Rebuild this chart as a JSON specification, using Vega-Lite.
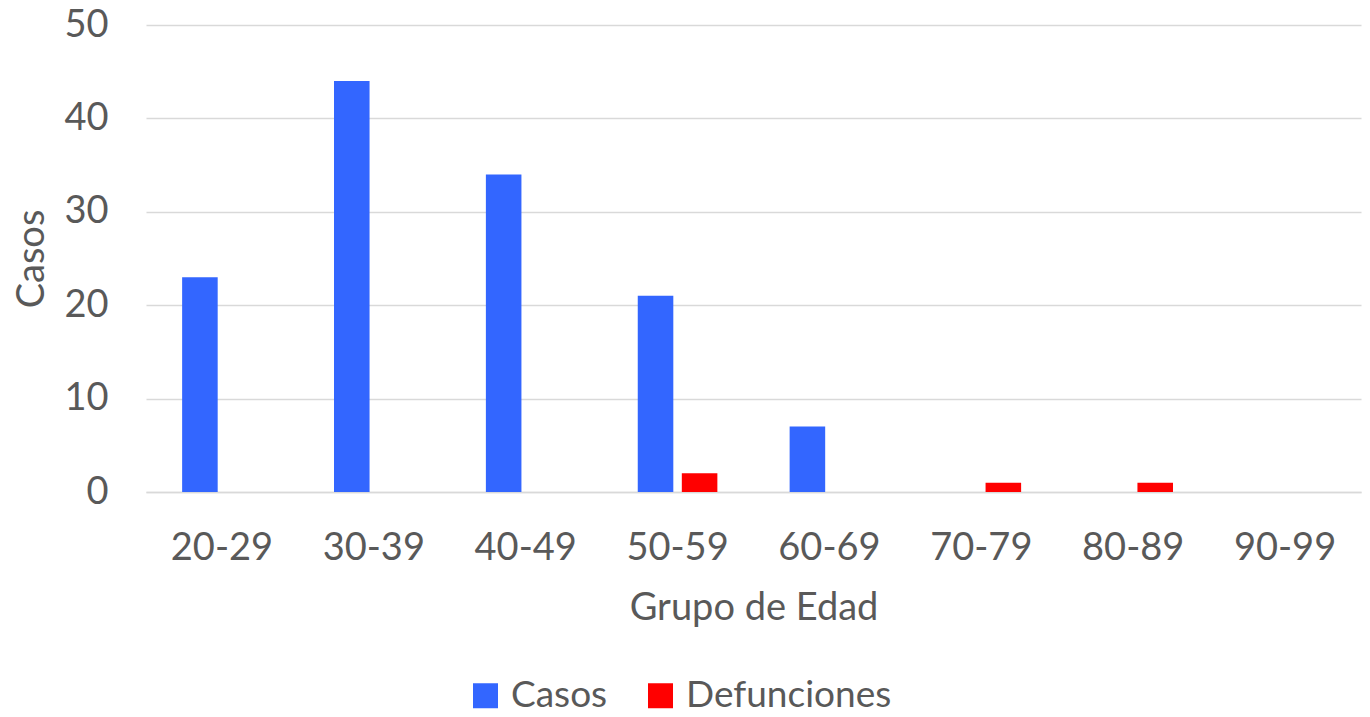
{
  "$schema": "https://vega.github.io/schema/vega-lite/v6.json",
  "autosize": {"type": "none"},
  "width": 1215,
  "height": 467,
  "padding": {"left": 146, "top": 25, "right": 9, "bottom": 225},
  "background": "white",
  "config": {
    "font": "Lato",
    "view": {"stroke": null},
    "axis": {"labelFont": "Lato", "titleFont": "Lato", "labelColor": "#595959", "titleColor": "#595959", "labelFontSize": 38, "titleFontSize": 38, "titleFontWeight": "normal"},
    "legend": {"labelFont": "Lato", "labelColor": "#595959", "labelFontSize": 37}
  },
  "data": {
    "values": [
      {"grupo": "20-29", "serie": "Casos", "valor": 23},
      {"grupo": "20-29", "serie": "Defunciones", "valor": 0},
      {"grupo": "30-39", "serie": "Casos", "valor": 44},
      {"grupo": "30-39", "serie": "Defunciones", "valor": 0},
      {"grupo": "40-49", "serie": "Casos", "valor": 34},
      {"grupo": "40-49", "serie": "Defunciones", "valor": 0},
      {"grupo": "50-59", "serie": "Casos", "valor": 21},
      {"grupo": "50-59", "serie": "Defunciones", "valor": 2},
      {"grupo": "60-69", "serie": "Casos", "valor": 7},
      {"grupo": "60-69", "serie": "Defunciones", "valor": 0},
      {"grupo": "70-79", "serie": "Casos", "valor": 0},
      {"grupo": "70-79", "serie": "Defunciones", "valor": 1},
      {"grupo": "80-89", "serie": "Casos", "valor": 0},
      {"grupo": "80-89", "serie": "Defunciones", "valor": 1},
      {"grupo": "90-99", "serie": "Casos", "valor": 0},
      {"grupo": "90-99", "serie": "Defunciones", "valor": 0}
    ]
  },
  "mark": {"type": "bar"},
  "encoding": {
    "x": {
      "field": "grupo", "type": "nominal", "sort": null,
      "scale": {"paddingInner": 0, "paddingOuter": 0},
      "axis": {"title": "Grupo de Edad", "labelAngle": 0, "ticks": false, "domainColor": "#D9D9D9", "domainWidth": 1.5, "labelPadding": 37, "titlePadding": 22}
    },
    "xOffset": {
      "field": "serie", "type": "nominal",
      "scale": {"paddingInner": 0.193, "paddingOuter": 0.82}
    },
    "y": {
      "field": "valor", "type": "quantitative",
      "scale": {"domain": [0, 50], "nice": false},
      "axis": {"title": "Casos", "values": [0, 10, 20, 30, 40, 50], "domain": false, "ticks": false, "gridColor": "#D9D9D9", "gridWidth": 1.5, "labelPadding": 38, "titlePadding": 12}
    },
    "color": {
      "field": "serie", "type": "nominal",
      "scale": {"domain": ["Casos", "Defunciones"], "range": ["#3366FF", "#FF0000"]},
      "legend": {"title": null, "orient": "none", "legendX": 321, "legendY": 652, "direction": "horizontal", "symbolType": "square", "symbolSize": 625, "symbolStrokeWidth": 0, "columnPadding": 34, "labelOffset": 7, "labelLimit": 400}
    }
  }
}
